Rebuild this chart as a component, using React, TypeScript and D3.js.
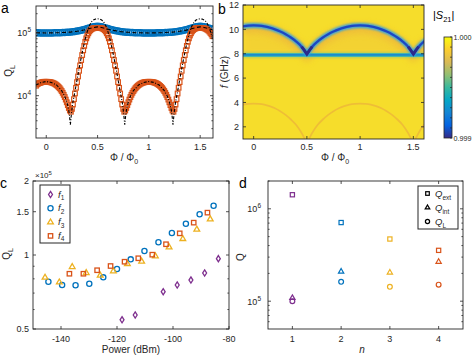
import React from "react";
import * as d3 from "d3";

const FONT = "'Liberation Sans', Arial, Helvetica, sans-serif";
const INK = "#262626";
const PURPLE = "#7E2F8E";
const BLUE = "#0072BD";
const YELLOW = "#EDB120";
const ORANGE = "#D95319";

// ---------------- Panel a ----------------
const A_PHI_START = -0.1;
const A_ORANGE_STEP = 0.01;
// Q_L (x10^3), orange squares, phi = -0.10 ... 1.62
const A_ORANGE_QL_K = [
  14.4, 15.1, 15.5, 15.8, 16.0, 16.2, 16.4, 16.5, 16.6, 16.6,
  16.6, 16.6, 16.56, 16.48, 16.37, 16.22, 16.03, 15.78, 15.49, 15.14,
  14.72, 14.26, 13.74, 13.18, 12.53, 11.86, 11.12, 10.33, 9.51, 8.67,
  7.85, 7.08, 6.38, 5.82, 5.56, 6.17, 7.24, 8.81, 10.84, 13.34,
  16.41, 20.18, 24.83, 30.2, 36.73, 44.16, 52.48, 61.66, 71.61, 81.28,
  90.2, 97.7, 104.7, 109.6, 113.5, 116.1, 117.5, 118.3, 118.9, 119.1,
  119.1,
  119.1, 118.9, 118.3, 117.5, 116.1, 113.5, 109.6, 104.7, 97.7, 90.2,
  81.28, 71.61, 61.66, 52.48, 44.16, 36.73, 30.2, 24.83, 20.18, 16.41,
  13.34, 10.84, 8.81, 7.24, 6.17, 5.56, 5.82, 6.38, 7.08, 7.85,
  8.67, 9.51, 10.33, 11.12, 11.86, 12.53, 13.18, 13.74, 14.26, 14.72,
  15.14, 15.49, 15.78, 16.03, 16.22, 16.37, 16.48, 16.56, 16.6, 16.6,
  16.6, 16.56, 16.48, 16.37, 16.22, 16.03, 15.78, 15.49, 15.14, 14.72,
  14.26, 13.74, 13.18, 12.53, 11.86, 11.12, 10.33, 9.51, 8.67, 7.85,
  7.08, 6.38, 5.82, 5.56, 6.17, 7.24, 8.81, 10.84, 13.34, 16.41,
  20.18, 24.83, 30.2, 36.73, 44.16, 52.48, 61.66, 71.61, 81.28, 90.2,
  97.7, 104.7, 109.6, 113.5, 116.1, 117.5, 118.3, 118.9, 119.1, 119.1,
  119.1, 118.9, 118.3, 117.5, 116.1, 113.5, 111, 108, 104, 99, 94, 88,
];
const A_BLUE_STEP = 0.02;
// Q_L (x10^3), blue circles, phi = -0.10 ... 1.62
const A_BLUE_QL_K = [
  99.5, 99.3, 99.1, 99.0, 98.9,
  98.9, 98.9, 99.0, 99.1, 99.3, 99.5, 99.8, 100.1, 100.4, 100.8,
  101.3, 101.9, 102.6, 103.5, 104.6, 105.9, 107.4, 109.2, 111.3, 113.6,
  116.1, 118.7, 121.3, 123.6, 125.3, 126.0, 125.3, 123.6, 121.3, 118.7,
  116.1, 113.6, 111.3, 109.2, 107.4, 105.9, 104.6, 103.5, 102.6, 101.9,
  101.3, 100.8, 100.4, 100.1, 99.8, 99.5, 99.3, 99.1, 99.0, 98.9,
  98.9, 98.9, 99.0, 99.1, 99.3, 99.5, 99.8, 100.1, 100.4, 100.8,
  101.3, 101.9, 102.6, 103.5, 104.6, 105.9, 107.4, 109.2, 111.3, 113.6,
  116.1, 118.7, 121.3, 123.6, 125.3, 126.0, 125.3, 123.6, 121.3, 118.7,
  116.1, 113.6,
];
const A_FIT_BLUE_PHI = [
  -0.1, -0.05, 0, 0.05, 0.1, 0.15, 0.2, 0.25, 0.3, 0.35, 0.4, 0.45, 0.5,
  0.55, 0.6, 0.65, 0.7, 0.75, 0.8, 0.85, 0.9, 0.95, 1.0, 1.05, 1.1, 1.15,
  1.2, 1.25, 1.3, 1.35, 1.4, 1.45, 1.5, 1.55, 1.6, 1.62,
];
const A_FIT_BLUE_K = [
  99.6, 99.2, 99.0, 99.2, 99.6, 100.3, 101.4, 103.0, 105.4, 108.8, 113.5, 119.5, 123.5,
  119.5, 113.5, 108.8, 105.4, 103.0, 101.4, 100.3, 99.6, 99.2, 99.0, 99.2, 99.6, 100.3,
  101.4, 103.0, 105.4, 108.8, 113.5, 119.5, 123.5, 119.5, 113.5, 111.4,
];
const A_FIT_ORANGE_PHI = [
  -0.1, -0.05, 0, 0.05, 0.1, 0.15, 0.18, 0.2, 0.21, 0.22, 0.225, 0.23, 0.235, 0.24, 0.245,
  0.25, 0.26, 0.28, 0.3, 0.32, 0.34, 0.36, 0.38, 0.4, 0.42, 0.44, 0.46, 0.48, 0.5,
  0.52, 0.54, 0.56, 0.58, 0.6, 0.62, 0.64, 0.66, 0.68, 0.7, 0.72, 0.74, 0.75, 0.755,
  0.76, 0.765, 0.77, 0.775, 0.78, 0.79, 0.8, 0.82, 0.85, 0.9, 0.95, 1.0,
  1.05, 1.1, 1.15, 1.18, 1.2, 1.21, 1.22, 1.225, 1.23, 1.235, 1.24, 1.245,
  1.25, 1.26, 1.28, 1.3, 1.32, 1.34, 1.36, 1.38, 1.4, 1.42, 1.44, 1.46, 1.48, 1.5,
  1.52, 1.54, 1.56, 1.58, 1.6, 1.62,
];
const A_FIT_ORANGE_K = [
  14.79, 16.22, 16.79, 16.22, 14.79, 12.02, 9.77, 7.94, 6.92, 5.75, 5.01, 4.17, 3.47, 4.17, 5.13,
  6.03, 7.94, 11.75, 17.78, 26.92, 39.81, 57.54, 79.43, 104.7, 128.8, 147.9, 158.5, 164.1, 166.0,
  164.1, 158.5, 147.9, 128.8, 104.7, 79.43, 57.54, 39.81, 26.92, 17.78, 11.75, 7.94, 6.03, 5.13,
  4.17, 3.47, 4.17, 5.01, 5.75, 6.92, 7.94, 9.77, 12.02, 14.79, 16.22, 16.79,
  16.22, 14.79, 12.02, 9.77, 7.94, 6.92, 5.75, 5.01, 4.17, 3.47, 4.17, 5.13,
  6.03, 7.94, 11.75, 17.78, 26.92, 39.81, 57.54, 79.43, 104.7, 128.8, 147.9, 158.5, 164.1, 166.0,
  164.1, 158.5, 147.9, 128.8, 104.7, 79.43,
];
const A_X_TICKS = [0, 0.5, 1, 1.5];
const A_X_LABELS = ["0", "0.5", "1", "1.5"];
const A_Y_TICKS = [1e4, 1e5];
const A_Y_EXP = ["4", "5"];
const A_Y_MINOR = [3e3, 4e3, 5e3, 6e3, 7e3, 8e3, 9e3, 2e4, 3e4, 4e4, 5e4, 6e4, 7e4, 8e4, 9e4, 2e5];

// ---------------- Panel b ----------------
const B_UPPER_PHI = [
  -0.1, -0.05, 0, 0.05, 0.1, 0.15, 0.2, 0.25, 0.3, 0.35, 0.4, 0.45, 0.475, 0.5,
  0.525, 0.55, 0.6, 0.65, 0.7, 0.75, 0.8, 0.85, 0.9, 0.95, 1,
  1.05, 1.1, 1.15, 1.2, 1.25, 1.3, 1.35, 1.4, 1.45, 1.475, 1.5,
  1.525, 1.55, 1.6, 1.62,
];
const B_UPPER_F = [
  10.24, 10.3, 10.32, 10.3, 10.24, 10.14, 10.0, 9.82, 9.6, 9.33, 9.0, 8.58, 8.3, 7.98,
  8.3, 8.58, 9.0, 9.33, 9.6, 9.82, 10.0, 10.14, 10.24, 10.3, 10.32,
  10.3, 10.24, 10.14, 10.0, 9.82, 9.6, 9.33, 9.0, 8.58, 8.3, 7.98,
  8.3, 8.58, 9.0, 9.14,
];
const B_LOWER_PHI = [
  -0.1, -0.05, 0, 0.05, 0.1, 0.15, 0.2, 0.25, 0.3, 0.35, 0.4, 0.45, 0.48, NaN,
  0.52, 0.55, 0.6, 0.65, 0.7, 0.75, 0.8, 0.85, 0.9, 0.95, 1.0, 1.05, 1.1, 1.15, 1.2,
  1.25, 1.3, 1.35, 1.4, 1.45, 1.48, NaN, 1.52, 1.55, 1.6, 1.62,
];
const B_LOWER_F = [
  3.82, 3.88, 3.9, 3.88, 3.82, 3.7, 3.52, 3.28, 2.98, 2.6, 2.15, 1.5, 1.0, NaN,
  1.0, 1.5, 2.15, 2.6, 2.98, 3.28, 3.52, 3.7, 3.82, 3.88, 3.9, 3.88, 3.82, 3.7, 3.52,
  3.28, 2.98, 2.6, 2.15, 1.5, 1.0, NaN, 1.0, 1.5, 2.15, 2.3,
];
const B_FLAT_F = [7.9];
const B_X_TICKS = [0, 0.5, 1, 1.5];
const B_Y_TICKS = [2, 4, 6, 8, 10, 12];
const B_CBAR_TICKS = [0.999, 0.9991, 0.9992, 0.9993, 0.9994, 0.9995, 0.9996, 0.9997, 0.9998, 0.9999, 1.0];
const B_CBAR_LABELS = ["1.000", "0.999"];
const PARULA = ["#352A87", "#0363E1", "#1485D4", "#06A7C6", "#38B99E", "#92BF73", "#D9BA56", "#FCCE2E", "#F9FB0E"];

// ---------------- Panel c ----------------
const C_F1_P = [-118.2, -113.5, -103.5, -98.5, -93.6, -88.7, -83.8];
const C_F1_Q = [0.545, 0.57, 0.709, 0.755, 0.791, 0.845, 0.966];
const C_F2_P = [-144.5, -139.6, -134.8, -129.9, -124.9, -120, -115.1, -110.2, -105.2, -100.4, -95.4, -90.5, -85.5];
const C_F2_Q = [0.778, 0.755, 0.753, 0.764, 0.811, 0.877, 0.96, 1.038, 1.127, 1.229, 1.341, 1.465, 1.587];
const C_F3_P = [-145.7, -140.6, -136, -131, -126, -121.3, -116.3, -111.2, -106.3, -101.4, -96.5, -91.5, -86.7];
const C_F3_Q = [0.811, 0.776, 0.896, 0.847, 0.827, 0.861, 0.922, 0.943, 0.991, 1.078, 1.165, 1.272, 1.401];
const C_F4_P = [-137, -132, -127.1, -122.3, -117.3, -112.4, -107.4, -102.5, -97.6, -92.6, -87.7];
const C_F4_Q = [0.839, 0.839, 0.867, 0.902, 0.939, 0.97, 1.003, 1.106, 1.225, 1.354, 1.487];
const C_X_TICKS = [-140, -120, -100, -80];
const C_Y_TICKS = [0.5, 1, 1.5, 2];
const C_Y_MINOR = [0.6, 0.7, 0.8, 0.9];

// ---------------- Panel d ----------------
const D_N = [1, 2, 3, 4];
const D_QEXT = [1.42e6, 7.1e5, 4.71e5, 3.55e5];
const D_QINT = [1.09e5, 2.1e5, 2.05e5, 2.68e5];
const D_QL = [1.0e5, 1.62e5, 1.43e5, 1.51e5];
const D_COLORS = [PURPLE, BLUE, YELLOW, ORANGE];
const D_Y_TICKS = [1e5, 1e6];
const D_Y_EXP = ["5", "6"];
const D_Y_MINOR = [6e4, 7e4, 8e4, 9e4, 2e5, 3e5, 4e5, 5e5, 6e5, 7e5, 8e5, 9e5, 2e6];

// ---------------- helpers ----------------
type MType = "circle" | "square" | "triangle" | "diamond";
function Marker({ t, x, y, s, c, w = 1.2, fill = "none" }: { t: MType; x: number; y: number; s: number; c: string; w?: number; fill?: string }) {
  if (t === "circle") return <circle cx={x} cy={y} r={s} fill={fill} stroke={c} strokeWidth={w} />;
  if (t === "square") return <rect x={x - s} y={y - s} width={2 * s} height={2 * s} fill={fill} stroke={c} strokeWidth={w} />;
  if (t === "triangle")
    return <path d={`M${x},${y - s * 1.2}L${x + s * 1.1},${y + s * 0.7}L${x - s * 1.1},${y + s * 0.7}Z`} fill={fill} stroke={c} strokeWidth={w} strokeLinejoin="miter" />;
  return <path d={`M${x},${y - s * 1.35}L${x + s * 0.85},${y}L${x},${y + s * 1.35}L${x - s * 0.85},${y}Z`} fill={fill} stroke={c} strokeWidth={w} />;
}

function tickPath(x0: number, x1: number, y0: number, y1: number, xs: number[], ys: number[], len: number) {
  let d = "";
  xs.forEach((x) => {
    d += `M${x},${y1}v${-len}M${x},${y0}v${len}`;
  });
  ys.forEach((y) => {
    d += `M${x0},${y}h${len}M${x1},${y}h${-len}`;
  });
  return d;
}

function Frame({ x0, x1, y0, y1 }: { x0: number; x1: number; y0: number; y1: number }) {
  return <rect x={x0} y={y0} width={x1 - x0} height={y1 - y0} fill="none" stroke={INK} strokeWidth={0.9} />;
}

export default function App() {
  // ---- panel a scales
  const aX0 = 36, aX1 = 213, aY0 = 6, aY1 = 138;
  const ax = d3.scaleLinear().domain([-0.1, 1.625]).range([aX0, aX1]);
  const ay = d3.scaleLog().domain([2130, 2.65e5]).range([aY1, aY0]);
  const orangePts = A_ORANGE_QL_K.map((q, i) => [A_PHI_START + i * A_ORANGE_STEP, q * 1e3]);
  const bluePts = A_BLUE_QL_K.map((q, i) => [A_PHI_START + i * A_BLUE_STEP, q * 1e3]);
  const fitBlue = d3.line<number>().x((_, i) => ax(A_FIT_BLUE_PHI[i])).y((q) => ay(q * 1e3)).curve(d3.curveMonotoneX)(A_FIT_BLUE_K) || "";
  const fitOrange = d3.line<number>().x((_, i) => ax(A_FIT_ORANGE_PHI[i])).y((q) => ay(q * 1e3))(A_FIT_ORANGE_K) || "";

  // ---- panel b scales
  const bX0 = 243, bX1 = 424, bY0 = 5, bY1 = 139;
  const bx = d3.scaleLinear().domain([-0.1, 1.6]).range([bX0, bX1]);
  const by = d3.scaleLinear().domain([1, 12]).range([bY1, bY0]);
  const upperLine = d3.line<number>().x((_, i) => bx(B_UPPER_PHI[i])).y((f) => by(f)).curve(d3.curveMonotoneX);
  const upperPath = upperLine(B_UPPER_F) || "";
  const cuspPath = d3.line<number>().defined((f) => f < 8.65).x((_, i) => bx(B_UPPER_PHI[i])).y((f) => by(f))(B_UPPER_F) || "";
  const domeArea = d3.area<number>().x((_, i) => bx(B_UPPER_PHI[i])).y0(by(B_FLAT_F[0])).y1((f) => by(f)).curve(d3.curveMonotoneX)(B_UPPER_F) || "";
  const lowerPath = d3.line<number>().defined((f, i) => !isNaN(f) && !isNaN(B_LOWER_PHI[i])).x((_, i) => bx(B_LOWER_PHI[i])).y((f) => by(f)).curve(d3.curveMonotoneX)(B_LOWER_F) || "";
  const flatY = by(B_FLAT_F[0]);
  const cbX0 = 444, cbX1 = 452, cbY0 = 37, cbY1 = 138;
  const cby = d3.scaleLinear().domain([0.999, 1.0]).range([cbY1, cbY0]);

  // ---- panel c scales
  const cX0 = 33, cX1 = 229, cY0 = 181, cY1 = 329;
  const cx = d3.scaleLinear().domain([-150, -80]).range([cX0, cX1]);
  const cy = d3.scaleLog().domain([0.5, 2]).range([cY1, cY0]);
  const cSeries: { p: number[]; q: number[]; t: MType; c: string; s: number }[] = [
    { p: C_F1_P, q: C_F1_Q, t: "diamond", c: PURPLE, s: 2.3 },
    { p: C_F2_P, q: C_F2_Q, t: "circle", c: BLUE, s: 2.6 },
    { p: C_F3_P, q: C_F3_Q, t: "triangle", c: YELLOW, s: 2.6 },
    { p: C_F4_P, q: C_F4_Q, t: "square", c: ORANGE, s: 2.2 },
  ];

  // ---- panel d scales
  const dX0 = 268, dX1 = 463, dY0 = 181, dY1 = 329;
  const dx = d3.scaleLinear().domain([0.5, 4.5]).range([dX0, dX1]);
  const dy = d3.scaleLog().domain([5e4, 2e6]).range([dY1, dY0]);

  const tl = { fontFamily: FONT, fontSize: 9, fill: INK } as const;

  return (
    <svg width={474} height={355} viewBox="0 0 474 355" style={{ position: "absolute", left: 0, top: 0, background: "#fff" }} fontFamily={FONT}>
      <defs>
        <clipPath id="clipA"><rect x={aX0} y={aY0} width={aX1 - aX0} height={aY1 - aY0} /></clipPath>
        <clipPath id="clipB"><rect x={bX0} y={bY0} width={bX1 - bX0} height={bY1 - bY0} /></clipPath>
        <filter id="blur3" filterUnits="userSpaceOnUse" x={bX0 - 20} y={0} width={220} height={150}>
          <feGaussianBlur stdDeviation={3} />
        </filter>
        <filter id="blur1" filterUnits="userSpaceOnUse" x={bX0 - 20} y={0} width={220} height={150}>
          <feGaussianBlur stdDeviation={0.9} />
        </filter>
        <filter id="blur05" filterUnits="userSpaceOnUse" x={bX0 - 20} y={0} width={220} height={150}>
          <feGaussianBlur stdDeviation={0.6} />
        </filter>
        <linearGradient id="parula" x1="0" y1="1" x2="0" y2="0">
          {PARULA.map((c, i) => (
            <stop key={i} offset={i / (PARULA.length - 1)} stopColor={c} />
          ))}
        </linearGradient>
      </defs>

      {/* ================= Panel a ================= */}
      <text x={1} y={13} fontSize={14} fill="#000">a</text>
      <g clipPath="url(#clipA)">
        {bluePts.map((p, i) => (
          <circle key={"b" + i} cx={ax(p[0])} cy={ay(p[1])} r={3.1} fill="none" stroke={BLUE} strokeWidth={1.3} />
        ))}
        {orangePts.map((p, i) => (
          <rect key={"o" + i} x={ax(p[0]) - 2.3} y={ay(p[1]) - 2.3} width={4.6} height={4.6} fill="none" stroke={ORANGE} strokeWidth={1.2} />
        ))}
        <path d={fitBlue} fill="none" stroke="#000" strokeWidth={1.1} strokeDasharray="4,2.5" />
        <path d={fitOrange} fill="none" stroke="#000" strokeWidth={1.1} strokeDasharray="3,1.6,1,1.6" />
      </g>
      <path
        d={tickPath(aX0, aX1, aY0, aY1, A_X_TICKS.map(ax), A_Y_TICKS.map(ay), 3) + tickPath(aX0, aX1, aY0, aY1, [], A_Y_MINOR.map(ay), 1.6)}
        stroke={INK} strokeWidth={0.8} fill="none"
      />
      <Frame x0={aX0} x1={aX1} y0={aY0} y1={aY1} />
      {A_X_TICKS.map((t, i) => (
        <text key={i} x={ax(t)} y={150} textAnchor="middle" {...tl}>{A_X_LABELS[i]}</text>
      ))}
      {A_Y_TICKS.map((t, i) => (
        <text key={i} x={31} y={ay(t) + 3.5} textAnchor="end" {...tl}>
          10<tspan dy={-4} fontSize={6.5}>{A_Y_EXP[i]}</tspan>
        </text>
      ))}
      <text transform="translate(12,71) rotate(-90)" textAnchor="middle" fontSize={10} fill={INK}>
        Q<tspan dy={2.5} fontSize={7}>L</tspan>
      </text>
      <text x={124} y={161} textAnchor="middle" fontSize={10} fill={INK}>
        Φ / Φ<tspan dy={2.5} fontSize={7}>0</tspan>
      </text>

      {/* ================= Panel b ================= */}
      <text x={218} y={14} fontSize={14} fill="#000">b</text>
      <g clipPath="url(#clipB)">
        <rect x={bX0} y={bY0} width={bX1 - bX0} height={bY1 - bY0} fill="#F6DD2B" />
        <path d={domeArea} fill="#F0C23C" opacity={0.4} filter="url(#blur3)" />
        <path d={upperPath} transform="translate(0,3)" fill="none" stroke="#EAAE3E" strokeWidth={9} opacity={0.6} filter="url(#blur3)" />
        <path d={lowerPath} fill="none" stroke="#E9A540" strokeWidth={1.8} opacity={0.55} filter="url(#blur05)" />
        <line x1={bX0} x2={bX1} y1={flatY} y2={flatY} stroke="#8CC47A" strokeWidth={6} opacity={0.6} filter="url(#blur1)" />
        <line x1={bX0} x2={bX1} y1={flatY} y2={flatY} stroke="#22AFC4" strokeWidth={3.6} filter="url(#blur05)" />
        <line x1={bX0} x2={bX1} y1={flatY} y2={flatY} stroke="#1A72D2" strokeWidth={1.2} opacity={0.8} />
        <path d={upperPath} fill="none" stroke="#33A2E0" strokeWidth={5} filter="url(#blur1)" />
        <path d={upperPath} fill="none" stroke="#1D46C2" strokeWidth={2.2} />
        <path d={cuspPath} fill="none" stroke="#2A2B8C" strokeWidth={3} filter="url(#blur05)" />
      </g>
      <path
        d={tickPath(bX0, bX1, bY0, bY1, B_X_TICKS.map(bx), B_Y_TICKS.map(by), 3)}
        stroke={INK} strokeWidth={0.8} fill="none"
      />
      <Frame x0={bX0} x1={bX1} y0={bY0} y1={bY1} />
      {B_X_TICKS.map((t, i) => (
        <text key={i} x={bx(t)} y={150} textAnchor="middle" {...tl}>{A_X_LABELS[i]}</text>
      ))}
      {B_Y_TICKS.map((t, i) => (
        <text key={i} x={239} y={by(t) + 3.2} textAnchor="end" {...tl}>{t}</text>
      ))}
      <text transform="translate(228,72) rotate(-90)" textAnchor="middle" fontSize={10} fill={INK}>
        <tspan fontStyle="italic">f</tspan> (GHz)
      </text>
      <text x={335} y={161} textAnchor="middle" fontSize={10} fill={INK}>
        Φ / Φ<tspan dy={2.5} fontSize={7}>0</tspan>
      </text>
      {/* colorbar */}
      <rect x={cbX0} y={cbY0} width={cbX1 - cbX0} height={cbY1 - cbY0} fill="url(#parula)" stroke={INK} strokeWidth={0.8} />
      <path d={B_CBAR_TICKS.map((t) => `M${cbX1},${cby(t)}h-2`).join("")} stroke={INK} strokeWidth={0.7} />
      <text x={453.5} y={cby(1.0) + 3} fontSize={7.2} fill={INK}>{B_CBAR_LABELS[0]}</text>
      <text x={453.5} y={cby(0.999) + 3} fontSize={7.2} fill={INK}>{B_CBAR_LABELS[1]}</text>
      <text x={433} y={19} fontSize={11} fill="#000">
        |<tspan fontStyle="italic">S</tspan><tspan dy={2.5} fontSize={7.5}>21</tspan><tspan dy={-2.5}>|</tspan>
      </text>

      {/* ================= Panel c ================= */}
      <text x={0} y={188} fontSize={14} fill="#000">c</text>
      {cSeries.map((s, si) =>
        s.p.map((p, i) => <Marker key={si + "-" + i} t={s.t} x={cx(p)} y={cy(s.q[i])} s={s.s} c={s.c} w={1.3} />)
      )}
      <path
        d={tickPath(cX0, cX1, cY0, cY1, C_X_TICKS.map(cx), C_Y_TICKS.map(cy), 3) + tickPath(cX0, cX1, cY0, cY1, [], C_Y_MINOR.map(cy), 1.6)}
        stroke={INK} strokeWidth={0.8} fill="none"
      />
      <Frame x0={cX0} x1={cX1} y0={cY0} y1={cY1} />
      {C_X_TICKS.map((t, i) => (
        <text key={i} x={cx(t)} y={342} textAnchor="middle" {...tl}>{t}</text>
      ))}
      {C_Y_TICKS.map((t, i) => (
        <text key={i} x={29} y={cy(t) + 3.2} textAnchor="end" {...tl}>{t}</text>
      ))}
      <text x={35} y={178} fontSize={8} fill={INK}>
        ×10<tspan dy={-3.5} fontSize={6}>5</tspan>
      </text>
      <text transform="translate(10,254) rotate(-90)" textAnchor="middle" fontSize={10} fill={INK}>
        Q<tspan dy={2.5} fontSize={7}>L</tspan>
      </text>
      <text x={131} y={353} textAnchor="middle" fontSize={10} fill={INK}>Power (dBm)</text>
      {/* legend c */}
      <rect x={40} y={185} width={30} height={58} fill="#fff" stroke={INK} strokeWidth={1} />
      {cSeries.map((s, i) => (
        <g key={i}>
          <Marker t={s.t} x={50.5} y={194.5 + i * 13.8} s={s.s} c={s.c} w={1.3} />
          <text x={58} y={197.5 + i * 13.8} fontSize={9.5} fill={INK}>
            <tspan fontStyle="italic">f</tspan><tspan dy={2.5} fontSize={6.5}>{i + 1}</tspan>
          </text>
        </g>
      ))}

      {/* ================= Panel d ================= */}
      <text x={239} y={188} fontSize={14} fill="#000">d</text>
      {D_N.map((n, i) => (
        <g key={i}>
          <Marker t="square" x={dx(n)} y={dy(D_QEXT[i])} s={2.1} c={D_COLORS[i]} w={1.2} />
          <Marker t="triangle" x={dx(n)} y={dy(D_QINT[i])} s={2.4} c={D_COLORS[i]} w={1.2} />
          <Marker t="circle" x={dx(n)} y={dy(D_QL[i])} s={2.4} c={D_COLORS[i]} w={1.2} />
        </g>
      ))}
      <path
        d={tickPath(dX0, dX1, dY0, dY1, D_N.map(dx), D_Y_TICKS.map(dy), 3) + tickPath(dX0, dX1, dY0, dY1, [], D_Y_MINOR.map(dy), 1.6)}
        stroke={INK} strokeWidth={0.8} fill="none"
      />
      <Frame x0={dX0} x1={dX1} y0={dY0} y1={dY1} />
      {D_N.map((n, i) => (
        <text key={i} x={dx(n)} y={342} textAnchor="middle" {...tl}>{n}</text>
      ))}
      {D_Y_TICKS.map((t, i) => (
        <text key={i} x={261} y={dy(t) + 3.5} textAnchor="end" {...tl}>
          10<tspan dy={-4} fontSize={6.5}>{D_Y_EXP[i]}</tspan>
        </text>
      ))}
      <text transform="translate(244,257) rotate(-90)" textAnchor="middle" fontSize={10} fill={INK}>Q</text>
      <text x={362} y={353} textAnchor="middle" fontSize={10} fontStyle="italic" fill={INK}>n</text>
      {/* legend d */}
      <rect x={418} y={186} width={40} height={43} fill="#fff" stroke={INK} strokeWidth={1} />
      {(["square", "triangle", "circle"] as MType[]).map((t, i) => (
        <g key={i}>
          <Marker t={t} x={427.5} y={193.5 + i * 14} s={t === "square" ? 1.8 : 2.1} c="#000" w={1.2} />
          <text x={435} y={197 + i * 14} fontSize={9.5} fill={INK}>
            <tspan fontStyle="italic">Q</tspan>
            <tspan dy={2.5} fontSize={6.5}>{["ext", "int", "L"][i]}</tspan>
          </text>
        </g>
      ))}
    </svg>
  );
}
